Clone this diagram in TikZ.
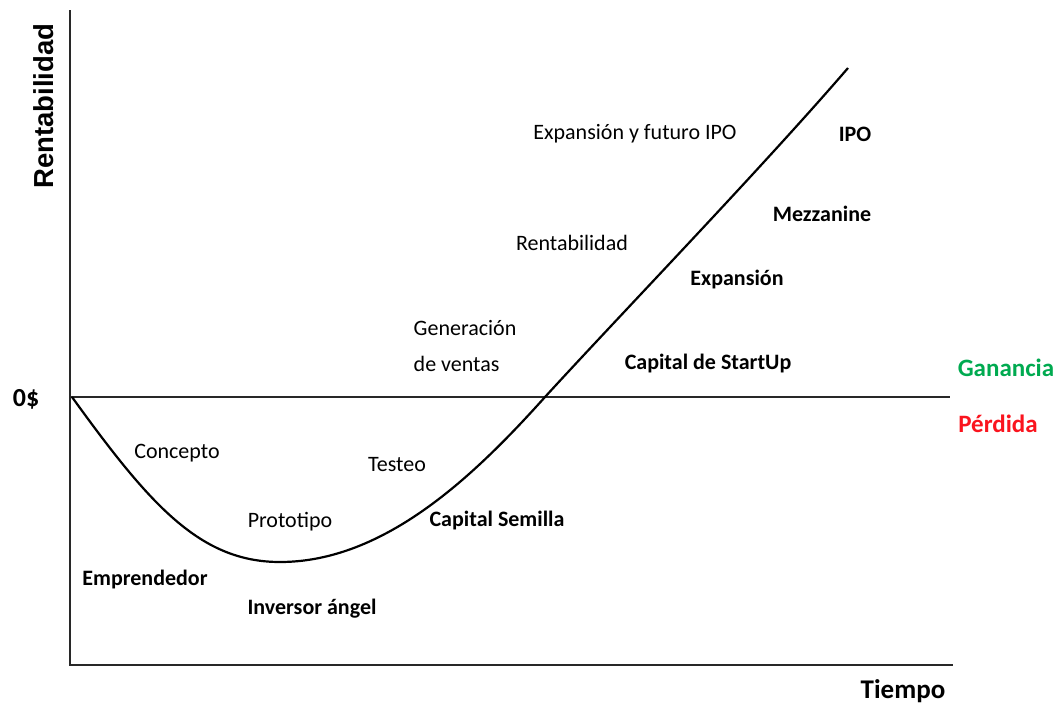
\documentclass[tikz,border=0pt]{standalone}
\usepackage{fontspec}
\setmainfont{Carlito}
\newfontfamily\arialfont{Liberation Sans}
\definecolor{gain}{RGB}{0,170,80}
\definecolor{loss}{RGB}{250,20,30}
\definecolor{axisc}{RGB}{40,40,40}
\begin{document}
\begin{tikzpicture}[x=1pt,y=-1pt,
  lbl/.style={font=\fontsize{22}{26}\selectfont, inner sep=0pt, anchor=center},
  blbl/.style={font=\fontsize{22}{26}\selectfont\bfseries, inner sep=0pt, anchor=center},
  bigbl/.style={font=\fontsize{26}{30}\selectfont\bfseries, inner sep=0pt, anchor=center},
  axisline/.style={draw=axisc, line width=1.8pt},
  curveline/.style={draw=black, line width=2.2pt}]
\useasboundingbox (0,0) rectangle (1061,705);
% axes
\coordinate (ytop) at (70,10);
\coordinate (orig) at (70,665);
\coordinate (xend) at (953,665);
\coordinate (zl) at (70,397);
\coordinate (zr) at (950,397);
\draw[axisline] (ytop) -- (orig) -- (xend);
\draw[axisline] (zl) -- (zr);
% curve
\coordinate (c0) at (72,397);
\coordinate (cmin) at (280,562);
\coordinate (cz) at (545,397);
\coordinate (cend) at (848,68);
\draw[curveline] (c0) .. controls (150,505) and (200,562) .. (cmin)
  .. controls (385,562) and (475,475) .. (cz)
  .. controls (620,315) and (760,170) .. (cend);
% axis labels
\node[inner sep=0pt, rotate=90, font=\arialfont\fontsize{27.5}{32}\selectfont\bfseries] (ylab) at (44,106) {Rentabilidad};
\node[bigbl, font=\fontsize{27}{31}\selectfont\bfseries] (xlab) at (903,691) {Tiempo};
\node[bigbl] (zero) at (26,399) {0\$};
\node[bigbl, font=\fontsize{25}{29}\selectfont\bfseries, text=gain] (gan) at (1006,368) {Ganancia};
\node[bigbl, font=\fontsize{25}{29}\selectfont\bfseries, text=loss] (per) at (998,424) {Pérdida};
% stage labels
\node[lbl] (exf) at (635,134) {Expansión y futuro IPO};
\node[blbl] (ipo) at (855,134) {IPO};
\node[blbl] (mez) at (822,214) {Mezzanine};
\node[lbl] (ren) at (572,243) {Rentabilidad};
\node[blbl] (exp) at (737,280) {Expansión};
\node[lbl, align=left, font=\fontsize{22}{36}\selectfont] (gen) at (465,346) {Generación\\de ventas};
\node[blbl] (cst) at (708,364) {Capital de StartUp};
\node[lbl] (con) at (177,453) {Concepto};
\node[lbl] (tes) at (397,465) {Testeo};
\node[lbl] (pro) at (290,522) {Prototipo};
\node[blbl] (csem) at (497,521) {Capital Semilla};
\node[blbl] (emp) at (145,580) {Emprendedor};
\node[blbl] (inv) at (312,609) {Inversor ángel};
\end{tikzpicture}
\end{document}
